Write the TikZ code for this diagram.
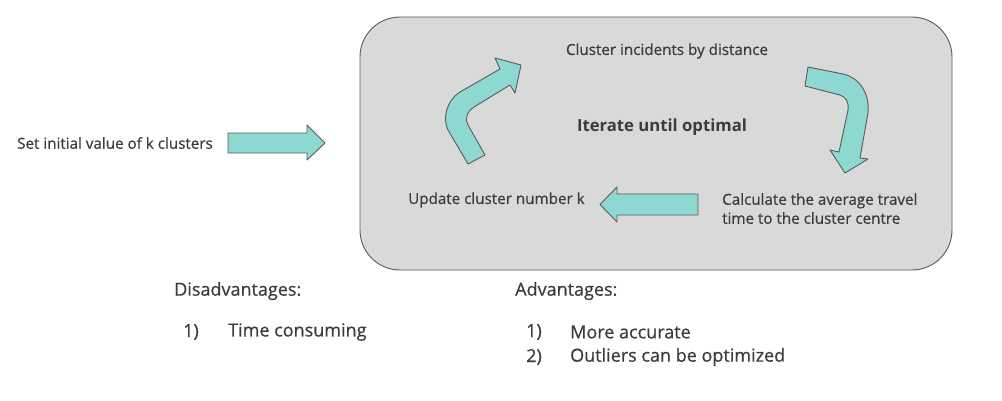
\documentclass[tikz,border=0pt]{standalone}
\usepackage{fontspec}
\setmainfont{Open Sans}[UprightFeatures={FakeBold=0.6}]
\usetikzlibrary{positioning}
\definecolor{boxgray}{HTML}{D9D9D9}
\definecolor{edgegray}{HTML}{5A5A5A}
\definecolor{arrowteal}{HTML}{8DD9D1}
\definecolor{textgray}{HTML}{3C3C3C}
\begin{document}
\begin{tikzpicture}[
x=1pt, y=-1pt,
fatarrow/.style={fill=arrowteal, draw=edgegray, line width=0.9pt, line join=round},
label/.style={inner sep=0pt, text=textgray, font=\fontsize{15.2}{19}\selectfont},
head/.style={inner sep=0pt, text=textgray, font=\fontsize{18}{21}\selectfont},
]
\useasboundingbox (0,0) rectangle (1002,400);

% ---- 外框 ----
\draw[fill=boxgray, draw=edgegray, line width=0.9pt, rounded corners=40pt]
    (360,17) rectangle (952,270);

% ---- 文字 ----
\node[label, anchor=west] (init) at (17,143) {Set initial value of k clusters};
\node[label] (cluster) at (667,51) {Cluster incidents by distance};
\node[label, font=\fontsize{16.7}{21}\selectfont\bfseries] (iter) at (662,127) {Iterate until optimal};
\node[label, anchor=west] (update) at (408,200) {Update cluster number k};
\node[label, anchor=north west, align=left]
    (calc) at (722,193) {Calculate the average travel\\time to the cluster centre};

% ---- 直箭头 ----
\draw[fatarrow] (228,133) -- (307,133) -- (307,125) -- (325,143)
    -- (307,160) -- (307,153) -- (228,153) -- cycle;
\draw[fatarrow] (698,194) -- (617,194) -- (617,187) -- (600,204.5)
    -- (617,222) -- (617,215) -- (698,215) -- cycle;

% ---- 弯箭头 ----
\draw[fatarrow] (468,164) -- (448,130) .. controls (442,118) and (447,100) .. (460,92)
    -- (500,69) -- (495,58) -- (521,65) -- (515,93) -- (510,85)
    -- (474,107) .. controls (466,112) and (465,120) .. (468,125)
    -- (485,155) -- cycle;
\draw[fatarrow] (808,67) -- (843,74) .. controls (858,77) and (870,92) .. (868,113)
    -- (860,158) -- (868,159) -- (845,173) -- (830,150) -- (839,152)
    -- (848,110) .. controls (849,102) and (846,97) .. (840,95)
    -- (805,86) -- cycle;

% ---- 优缺点 ----
\node[head, anchor=west] (dis) at (174,291) {Disadvantages:};
\node[head, anchor=west] (dis1n) at (183,332) {1)};
\node[head, anchor=west] (dis1) at (228,332) {Time consuming};
\node[head, anchor=west] (adv) at (515,291) {Advantages:};
\node[head, anchor=west] (adv1n) at (526,332) {1)};
\node[head, anchor=west] (adv1) at (570,332) {More accurate};
\node[head, anchor=west] (adv2n) at (526,357) {2)};
\node[head, anchor=west] (adv2) at (570,357) {Outliers can be optimized};
\end{tikzpicture}
\end{document}
